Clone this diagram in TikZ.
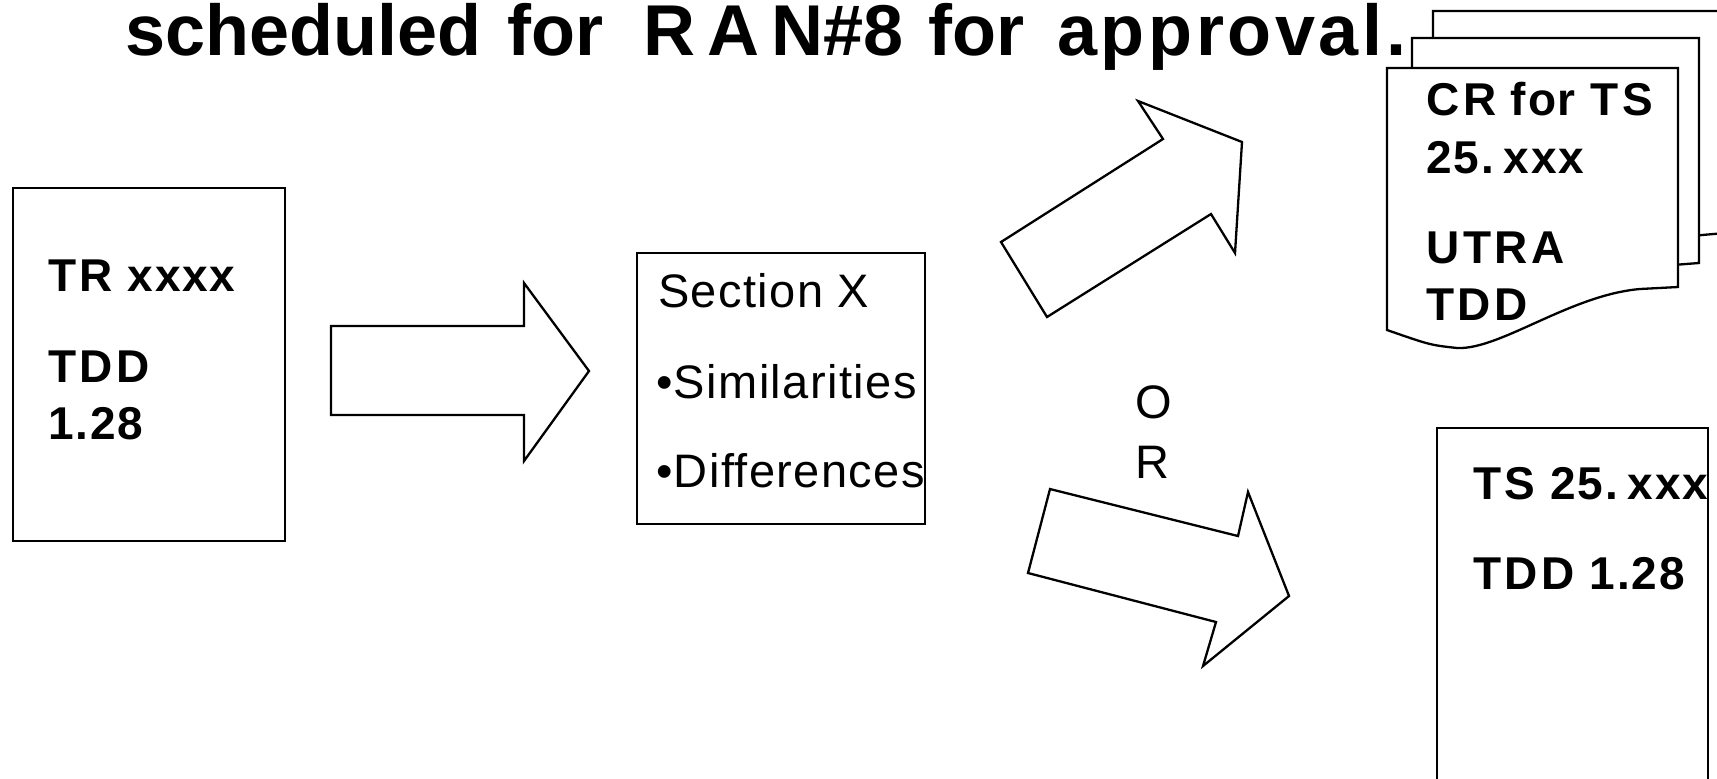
\documentclass[tikz,border=0pt]{standalone}
\usepackage{fontspec}
\setmainfont{Liberation Sans}
\newcommand\lsp{\kern0.08em}
\begin{document}
\begin{tikzpicture}[x=0.5pt,y=-0.5pt,
  line width=1.15pt, line join=miter,
  lbl/.style={inner sep=0pt, anchor=base west, font=\fontsize{23}{27}\selectfont\bfseries\addfontfeature{LetterSpace=4}},
  reg/.style={inner sep=0pt, anchor=base west, font=\fontsize{23.5}{27}\selectfont\addfontfeature{LetterSpace=3}},
  box/.style={draw=black, fill=white, inner sep=0pt, anchor=north west},
  shp/.style={draw=black, fill=white}]
\useasboundingbox (0,0) rectangle (1717,778);
\clip (0,0) rectangle (1717,778);

% title
\node[inner sep=0pt, anchor=base west, font=\fontsize{36}{40}\selectfont\bfseries] (title) at (124,55)
  {scheduled\hspace{13pt}for\hspace{20pt}R\kern6pt A\kern6pt N\#8\hspace{12.5pt}for\hspace{16.5pt}{\addfontfeature{LetterSpace=5}approval.}};

% left box
\node[box, minimum width=136pt, minimum height=176.5pt] (tr) at (12,187) {};
\node[lbl] (tr1) at (47,291) {T\lsp R xxxx};
\node[lbl] (tr2) at (47,382) {T\lsp D\lsp D};
\node[lbl] (tr3) at (47,439) {1.28};

% arrow 1
\draw[shp] (331,326) -- (524,326) -- (524,283) -- (589,371) -- (524,461) -- (524,415) -- (331,415) -- cycle;

% section box
\node[box, minimum width=144pt, minimum height=135.5pt] (sec) at (636,252) {};
\node[reg] (s1) at (657,307) {Section X};
\node[reg] (s2) at (655,398) {•Similarities};
\node[reg] (s3) at (655,487) {•Differences};

% upper arrow
\draw[shp] (1001,242) -- (1047,317) -- (1211,214) -- (1235,253) -- (1242,142) -- (1138,101) -- (1163,139) -- cycle;

% lower arrow
\draw[shp] (1050,489) -- (1238,536) -- (1248,492) -- (1289,596) -- (1203,666) -- (1216,622) -- (1028,573) -- cycle;

% OR
\node[reg, anchor=base] (or1) at (1154,418) {O};
\node[reg, anchor=base] (or2) at (1152,478) {R};

% CR stack
\draw[shp] (1433,11) -- (1760,11) -- (1760,230) -- (1702,235) -- (1433,270) -- cycle;
\draw[shp] (1412,38) -- (1699,38) -- (1699,263) -- (1660,266) -- (1412,300) -- cycle;
\draw[shp] (1387,68) -- (1678,68) -- (1678,287) -- (1640,289)
  .. controls (1570,295) and (1500,350) .. (1457,348)
  .. controls (1430,345) .. (1387,330) -- cycle;
\node[lbl] (cr1) at (1425,115) {C\lsp R for T\lsp S};
\node[lbl] (cr2) at (1425,173) {25.\hspace{0.22em}xxx};
\node[lbl] (cr3) at (1425,263) {U\lsp T\lsp R\lsp A};
\node[lbl] (cr4) at (1425,320) {T\lsp D\lsp D};

% right box
\node[box, minimum width=135.5pt, minimum height=200pt] (ts) at (1436,427) {};
\node[lbl] (ts1) at (1472,499) {T\lsp S 25.\hspace{0.22em}xxx};
\node[lbl] (ts2) at (1472,589) {T\lsp D\lsp D 1.28};
\end{tikzpicture}
\end{document}
